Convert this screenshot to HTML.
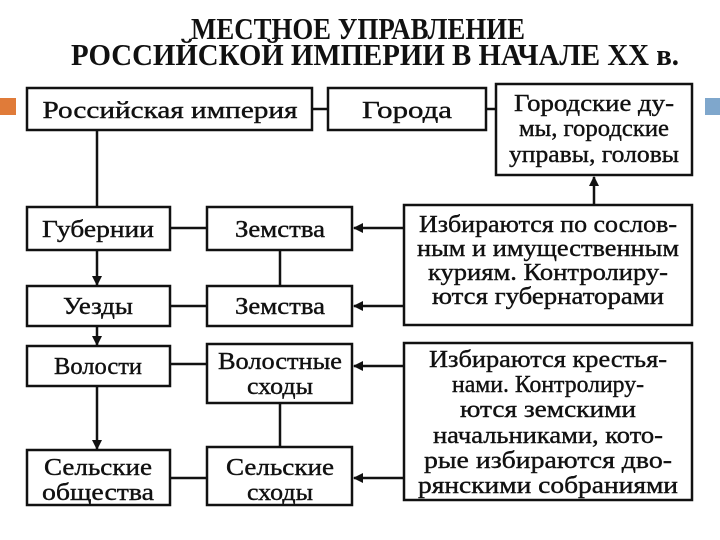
<!DOCTYPE html>
<html><head><meta charset="utf-8"><style>
html,body{margin:0;padding:0;background:#fff;}
svg{display:block}
text{font-family:"Liberation Serif",serif;fill:#111;}
</style></head><body>
<svg width="720" height="540" viewBox="0 0 720 540" xmlns="http://www.w3.org/2000/svg">
<defs><marker id="a" markerWidth="10" markerHeight="10" refX="9" refY="5" orient="auto" markerUnits="userSpaceOnUse"><path d="M0,0 L10,5 L0,10 z" fill="#111"/></marker></defs>
<rect x="0" y="98" width="16" height="17" fill="#e07b39"/>
<rect x="705" y="98" width="15" height="17" fill="#7fa7cc"/>
<g font-size="31" text-anchor="middle" font-weight="bold">
<text x="358" y="39" textLength="334" lengthAdjust="spacingAndGlyphs">МЕСТНОЕ УПРАВЛЕНИЕ</text>
<text x="375" y="65" textLength="608" lengthAdjust="spacingAndGlyphs">РОССИЙСКОЙ ИМПЕРИИ В НАЧАЛЕ XX в.</text>
</g>
<g fill="none" stroke="#111" stroke-width="2.5">
<rect x="27" y="88" width="285" height="42"/>
<rect x="328" y="88" width="158" height="42"/>
<rect x="496" y="84" width="196" height="91"/>
<rect x="27" y="207" width="143" height="43"/>
<rect x="207" y="207" width="145" height="43"/>
<rect x="404" y="205" width="288" height="120"/>
<rect x="27" y="286" width="143" height="40"/>
<rect x="207" y="286" width="145" height="40"/>
<rect x="27" y="346" width="143" height="40"/>
<rect x="207" y="344" width="145" height="59"/>
<rect x="404" y="343" width="288" height="157"/>
<rect x="27" y="450" width="143" height="55"/>
<rect x="207" y="447" width="145" height="58"/>
<line x1="312" y1="109" x2="328" y2="109"/>
<line x1="486" y1="109" x2="496" y2="109"/>
<line x1="97" y1="130" x2="97" y2="207"/>
<line x1="170" y1="228" x2="207" y2="228"/>
<line x1="170" y1="306" x2="207" y2="306"/>
<line x1="170" y1="364" x2="207" y2="364"/>
<line x1="170" y1="478" x2="207" y2="478"/>
<line x1="280" y1="250" x2="280" y2="286"/>
<line x1="280" y1="403" x2="280" y2="447"/>
</g>
<g stroke="#111" stroke-width="2.5" marker-end="url(#a)">
<line x1="97" y1="250" x2="97" y2="285"/>
<line x1="97" y1="326" x2="97" y2="345"/>
<line x1="97" y1="386" x2="97" y2="449"/>
<line x1="404" y1="228" x2="354" y2="228"/>
<line x1="404" y1="306" x2="354" y2="306"/>
<line x1="404" y1="366" x2="354" y2="366"/>
<line x1="404" y1="478" x2="354" y2="478"/>
<line x1="594" y1="205" x2="594" y2="177"/>
</g>
<g font-size="24" text-anchor="middle" stroke="#111" stroke-width="0.4">
<text x="170" y="118" textLength="255" lengthAdjust="spacingAndGlyphs">Российская империя</text>
<text x="407" y="118" textLength="90" lengthAdjust="spacingAndGlyphs">Города</text>
<text x="594" y="111" textLength="160" lengthAdjust="spacingAndGlyphs">Городские ду-</text>
<text x="594" y="136" textLength="150" lengthAdjust="spacingAndGlyphs">мы, городские</text>
<text x="594" y="162" textLength="170" lengthAdjust="spacingAndGlyphs">управы, головы</text>
<text x="98" y="237" textLength="112" lengthAdjust="spacingAndGlyphs">Губернии</text>
<text x="280" y="237" textLength="90" lengthAdjust="spacingAndGlyphs">Земства</text>
<text x="98" y="314" textLength="70" lengthAdjust="spacingAndGlyphs">Уезды</text>
<text x="280" y="314" textLength="90" lengthAdjust="spacingAndGlyphs">Земства</text>
<text x="98" y="374" textLength="88" lengthAdjust="spacingAndGlyphs">Волости</text>
<text x="280" y="369" textLength="124" lengthAdjust="spacingAndGlyphs">Волостные</text>
<text x="280" y="394" textLength="66" lengthAdjust="spacingAndGlyphs">сходы</text>
<text x="98" y="475" textLength="108" lengthAdjust="spacingAndGlyphs">Сельские</text>
<text x="98" y="500" textLength="112" lengthAdjust="spacingAndGlyphs">общества</text>
<text x="280" y="475" textLength="108" lengthAdjust="spacingAndGlyphs">Сельские</text>
<text x="280" y="500" textLength="66" lengthAdjust="spacingAndGlyphs">сходы</text>
<text x="548" y="232" textLength="258" lengthAdjust="spacingAndGlyphs">Избираются по сослов-</text>
<text x="548" y="256" textLength="262" lengthAdjust="spacingAndGlyphs">ным и имущественным</text>
<text x="548" y="280" textLength="240" lengthAdjust="spacingAndGlyphs">куриям. Контролиру-</text>
<text x="548" y="304" textLength="232" lengthAdjust="spacingAndGlyphs">ются губернаторами</text>
<text x="548" y="367" textLength="238" lengthAdjust="spacingAndGlyphs">Избираются крестья-</text>
<text x="548" y="392" textLength="192" lengthAdjust="spacingAndGlyphs">нами. Контролиру-</text>
<text x="548" y="417" textLength="176" lengthAdjust="spacingAndGlyphs">ются земскими</text>
<text x="548" y="443" textLength="230" lengthAdjust="spacingAndGlyphs">начальниками, кото-</text>
<text x="548" y="468" textLength="248" lengthAdjust="spacingAndGlyphs">рые избираются дво-</text>
<text x="548" y="493" textLength="260" lengthAdjust="spacingAndGlyphs">рянскими собраниями</text>
</g>
</svg>
</body></html>
